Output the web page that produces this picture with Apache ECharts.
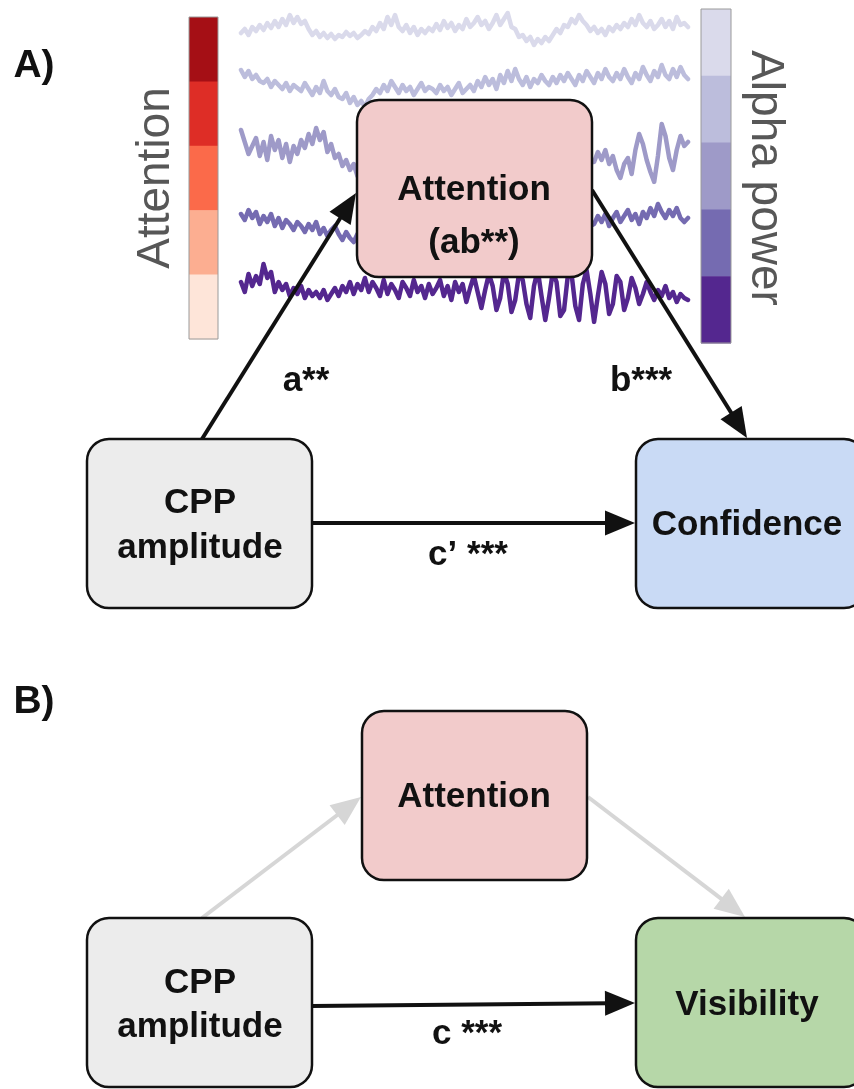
<!DOCTYPE html>
<html>
<head>
<meta charset="utf-8">
<title>CPP amplitude, attention and confidence / visibility</title>
<script src="https://cdn.jsdelivr.net/npm/echarts@6/dist/echarts.min.js"></script>
<style>
  html, body { margin: 0; padding: 0; background: #ffffff; }
  #chart { width: 854px; height: 1089px; }
</style>
</head>
<body>
<div id="chart"></div>
<script>
// ---- EEG example traces (amplitude, arbitrary µV units), lowest to highest alpha power ----
const alphaTrace1 = [0, 4, -2, 6, 2, 8, 3, 10, 5, 12, 6, 14, 8, 18, 10, 16, 9, 12, 4,
  -2, 2, -4, 0, -5, -1, -6, -2, -4, 1, -3, 0, -5, -2, 2, -1, 6, 2, 10, 4, 16, 8, 18, 6,
  2, 8, 0, 6, -2, 4, 0, 5, 2, 9, 3, 12, 5, 10, 2, 8, 4, 14, 6, 10, 16, 8, 12, 4, 10, 18, 8, 14,
  20, 6, 4, -4, -2, -8, -4, -12, -6, -10, -4, -8, -2, 4, 0, 8, 6, 14, 10, 18,
  12, 8, 2, 6, 0, 4, -2, 6, 2, 8, 4, 10, 6, 14, 8, 18, 10, 6, 12, 4, 8, 14, 6, 12, 4, 16, 8, 10, 6];
const alphaTrace2 = [15, 8, 14, 6, 10, 4, 2, 6, -2, 4, 0, -4, 2, -6, 0, -3,
  -6, 2, -4, -10, -2, -8, 4, -6, -10, -4, -12, -14, -8, -18, -12, -20, -16, -22, -14,
  -10, -4, -8, 0, -6, 4, -2, -8, 0, -6, -2, -10, -4, 2, -6, -2, -4, -8, 0, -6, -2, -10, -4, 2, -8, -4, 0, -6,
  4, -2, 8, 0, 6, -4, 10, 2, 14, 4, 16, 6, 0, 8, -2, 6, 2, 10, 4, 0, 8, 2, 10, 4,
  12, 6, 0, 10, 4, 14, 8, 2, 12, 6, 16, 8, 4, 12, 6, 16, 8, 2, 12, 6, 18, 10, 4, 14, 8, 20, 10, 6, 16, 8, 18, 10, 6];
const alphaTrace3 = [20, 8, -4, 4, 12, -6, 8, -10, 14, 0, 10, -8, 6, -12, 4, -4, 10,
  2, 16, 6, 22, 10, 18, -2, 6, -8, -4, -16, -10, -20, -14, -26, -18, -24,
  -16, -10, -4, -12, -2, 4, -6, 2, -4, -10, 0, 6, -2, 4, -8, -2, 8, 0, -6, 2, -4, 6, 0,
  4, -2, 8, 0, -6, 2, 10, 4, -4, 0, 6, -2, 4, 10, 2, -4, 6, 0, -6, 2, 8, -2, -8, 0, 4, -4, -10, -2, 2, -6, -12, -4, -10, -16, -8, -14, -12,
  -12, -2, -10, 0, -14, -6, -20, -28, -14, -8, -24, 0, 16, 6, -10, -22, -32, -6, 26, 14, -8, -20, 0, 14, 4, 8];
const alphaTrace4 = [6, 0, 10, 2, 8, -4, 4, -2, 6, -6, 2, -8, 0, -4, -10, -2,
  -6, -12, -4, -10, -2, -14, -8, -16, -10, -6, -14, -20, -12, -18, -22, -14, -20, -16,
  -12, -6, -14, -8, -2, -10, -4, 2, -6, 0, -8, -2, 4, -4, 2, -6, 0, 6, -2, 4,
  -4, 2, 8, 0, -6, 2, -2, 6, 0, -4, 4, -2, 8, 2, -4, 0, 6, -2, 4, 0,
  -6, 2, -2, 4, -4, 0, 6, -2, 2, -6, 0, 4, -2, 6, 0, -4, 2, -2, 4, -6,
  -4, 4, -2, 6, -6, 2, 8, -2, 4, 10, 0, 6, -4, 8, 2, 12, 4, 16, 8, 2, 10, 4, 12, 2, -2, 2];
const alphaTrace5 = [8, -2, 16, 4, 14, 6, 26, 12, 18, -2, 8, 0, 6, -6, 2, -4, 4, -8, 0, -6, -2,
  -8, 0, -10, -4, 2, -6, 4, -2, 8, -4, 6, 0, 12, -2, 8, 2, -6, 10, -4, 6,
  0, -8, 8, 2, -6, 10, -2, 4, -8, 6, -4, 2, 10, -6, 4, -10, 8, -2,
  6, -12, 2, 14, -2, -18, 0, 16, 4, -20, -8, 18, 6, -22, -10, 16, 10, -14, -28, 4,
  20, -6, -30, -8, 18, 8, -26, -20, 14, 16, -16, -30, 6, 20, -4, -32, -6, 18, 6, -24,
  -14, 14, 8, -20, -8, 12, 2,
  -14, -4, 8, -2, -10, 0, -6, 4, -8, -2, -12, -4, -8, -10];

// ---- Text content ----
const panelLabels = ['A)', 'B)'];
const colorbarTitles = ['Attention', 'Alpha power'];
const mediatorTextA = ['Attention', '(ab**)'];
const mediatorTextB = ['Attention'];
const predictorText = ['CPP', 'amplitude'];
const outcomeTextA = ['Confidence'];
const outcomeTextB = ['Visibility'];
const pathLabelsA = ['a**', 'b***', 'c\u2019 ***'];
const pathLabelsB = ['c ***'];

// ---- Palettes ----
const traces = [alphaTrace1, alphaTrace2, alphaTrace3, alphaTrace4, alphaTrace5];
const purples = ['#dadaeb', '#bcbddc', '#9e9ac8', '#756bb1', '#54278f'];
const reds = ['#a50f15', '#de2d26', '#fb6a4a', '#fcae91', '#fee5d9'];

const FONT = '"Liberation Sans", Arial, Helvetica, sans-serif';
const boldFont = (s) => 'bold ' + s + 'px ' + FONT;

// ---- Trace strips: one small grid per trace ----
const stripCenters = [33, 85, 150, 220, 290];
const stripHalf = 32;
const grids = [], xAxes = [], yAxes = [], series = [];
traces.forEach((tr, k) => {
  grids.push({ left: 241, width: 447, top: stripCenters[k] - stripHalf, height: stripHalf * 2 });
  xAxes.push({ type: 'category', gridIndex: k, boundaryGap: false, show: false,
    data: tr.map((_, i) => i) });
  yAxes.push({ type: 'value', gridIndex: k, min: -stripHalf, max: stripHalf, show: false });
  series.push({
    type: 'line', xAxisIndex: k, yAxisIndex: k, data: tr, showSymbol: false, silent: true,
    z: 2, lineStyle: { color: purples[k], width: 4.5, join: 'round', cap: 'round' }
  });
});

// ---- Diagram helpers ----
function box(x, y, w, h, fill) {
  return { type: 'rect', z: 50, shape: { x, y, width: w, height: h, r: 22 },
    style: { fill, stroke: '#111', lineWidth: 2.5 } };
}
function label(text, x, y, size, opts) {
  opts = opts || {};
  return { type: 'text', z: 60, x, y, rotation: opts.rotation || 0,
    style: { text, font: opts.font || boldFont(size), fill: opts.fill || '#111',
      textAlign: opts.align || 'center', textVerticalAlign: 'middle',
      align: opts.align || 'center', verticalAlign: 'middle' } };
}
function lines(texts, x, yFirst, step, size) {
  return texts.map((t, i) => label(t, x, yFirst + i * step, size));
}
function arrow(p1, p2, color) {
  const dx = p2[0] - p1[0], dy = p2[1] - p1[1];
  const len = Math.hypot(dx, dy), ux = dx / len, uy = dy / len;
  const hl = 30, hw = 12.5;
  const bx = p2[0] - ux * hl, by = p2[1] - uy * hl;
  return [
    { type: 'line', z: 40, shape: { x1: p1[0], y1: p1[1], x2: bx + ux * 4, y2: by + uy * 4 },
      style: { stroke: color, lineWidth: 4 } },
    { type: 'polygon', z: 40, shape: { points: [[p2[0], p2[1]], [bx - uy * hw, by + ux * hw], [bx + uy * hw, by - ux * hw]] },
      style: { fill: color } }
  ];
}
function colorbar(x, y, w, h, colors) {
  const seg = h / colors.length, out = [];
  colors.forEach((c, i) => out.push({ type: 'rect', z: 20,
    shape: { x, y: y + i * seg, width: w, height: seg + 0.5 }, style: { fill: c } }));
  out.push({ type: 'rect', z: 21, shape: { x, y, width: w, height: h },
    style: { fill: 'none', stroke: '#9a9a9a', lineWidth: 1 } });
  return out;
}

const elements = [];
// panel A
elements.push(label(panelLabels[0], 34, 66, 39));
elements.push(...colorbar(189, 17, 29, 322, reds));
elements.push(...colorbar(701, 9, 30, 334, purples));
elements.push(label(colorbarTitles[0], 156, 178, 46,
  { rotation: Math.PI / 2, font: '46px ' + FONT, fill: '#575757' }));
elements.push(label(colorbarTitles[1], 765, 178, 46,
  { rotation: -Math.PI / 2, font: '46px ' + FONT, fill: '#575757' }));
elements.push(box(357, 100, 235, 177, '#f2cbcb'));
elements.push(...lines(mediatorTextA, 474, 190, 53, 35));
elements.push(box(87, 439, 225, 169, '#ececec'));
elements.push(...lines(predictorText, 200, 503, 45, 35));
elements.push(box(636, 439, 230, 169, '#c9daf5'));
elements.push(...lines(outcomeTextA, 747, 525, 0, 35));
elements.push(...arrow([202, 439], [356, 193], '#111'));
elements.push(...arrow([592, 190], [747, 438], '#111'));
elements.push(...arrow([312, 523], [635, 523], '#111'));
elements.push(label(pathLabelsA[0], 306, 381, 35));
elements.push(label(pathLabelsA[1], 641, 381, 35));
elements.push(label(pathLabelsA[2], 468, 555, 35));

// panel B
elements.push(label(panelLabels[1], 34, 702, 39));
elements.push(box(362, 711, 225, 169, '#f2cbcb'));
elements.push(...lines(mediatorTextB, 474, 797, 0, 35));
elements.push(box(87, 918, 225, 169, '#ececec'));
elements.push(...lines(predictorText, 200, 983, 44, 35));
elements.push(box(636, 918, 230, 169, '#b6d7a8'));
elements.push(...lines(outcomeTextB, 747, 1005, 0, 35));
elements.push(...arrow([202, 918], [361, 797], '#d6d6d6'));
elements.push(...arrow([588, 797], [745, 917], '#d6d6d6'));
elements.push(...arrow([312, 1006], [635, 1003], '#111'));
elements.push(label(pathLabelsB[0], 467, 1034, 35));

const chart = echarts.init(document.getElementById('chart'), null, { renderer: 'canvas' });
chart.setOption({
  animation: false,
  backgroundColor: '#ffffff',
  grid: grids,
  xAxis: xAxes,
  yAxis: yAxes,
  series: series,
  graphic: { elements: elements }
});
</script>
</body>
</html>
